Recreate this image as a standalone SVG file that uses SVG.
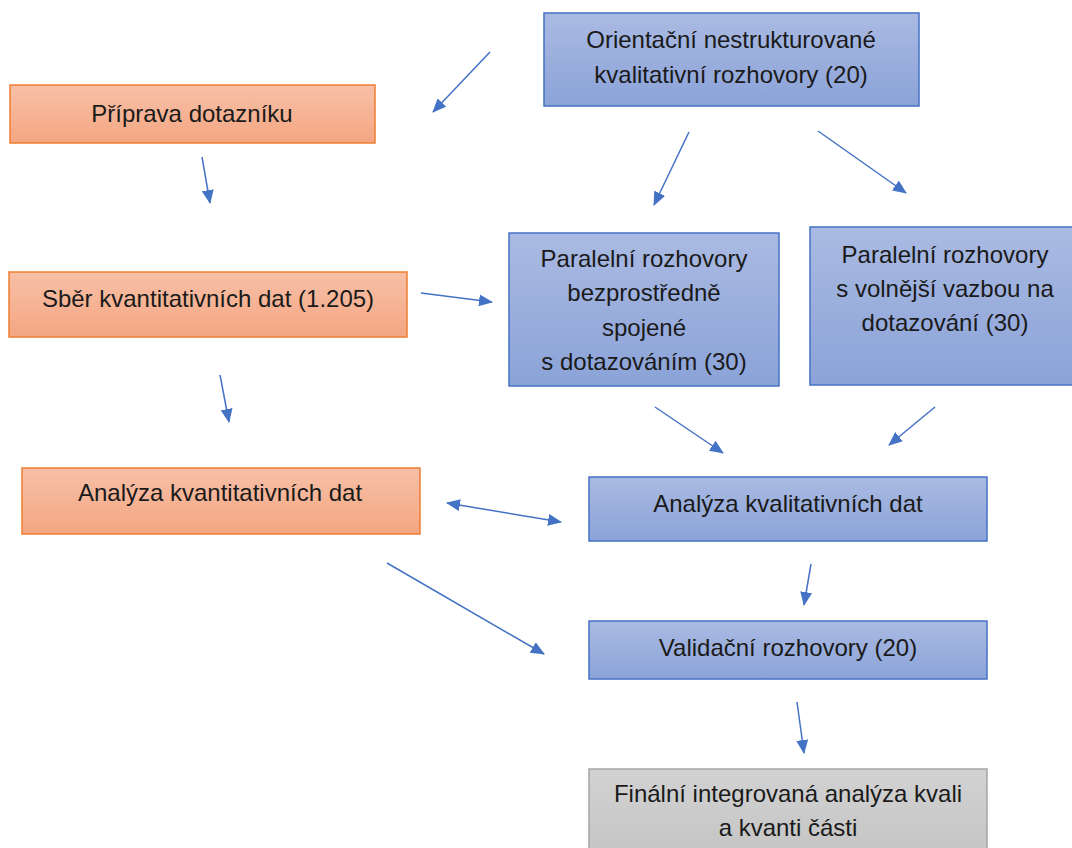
<svg xmlns="http://www.w3.org/2000/svg" width="1072" height="848" viewBox="0 0 1072 848">
<style>
text{font-family:"Liberation Sans",Arial,sans-serif;font-size:24px;fill:#1a1a1a;text-anchor:middle}
.o{fill:url(#gO);stroke:#ed7d31;stroke-width:1.5}
.b{fill:url(#gB);stroke:#4472c4;stroke-width:1.5}
.g{fill:url(#gG);stroke:#a5a5a5;stroke-width:1.5}
.c{stroke:#4472c4;stroke-width:1.5;fill:none;marker-end:url(#ah)}
</style>
<defs>
<linearGradient id="gO" x1="0" y1="0" x2="0" y2="1"><stop offset="0" stop-color="#f7c0a7"/><stop offset="1" stop-color="#f4a682"/></linearGradient>
<linearGradient id="gB" x1="0" y1="0" x2="0" y2="1"><stop offset="0" stop-color="#aabae2"/><stop offset="1" stop-color="#8ba3d8"/></linearGradient>
<linearGradient id="gG" x1="0" y1="0" x2="0" y2="1"><stop offset="0" stop-color="#d2d2d2"/><stop offset="1" stop-color="#c4c4c4"/></linearGradient>
<marker id="ah" viewBox="0 0 14 12" refX="13" refY="6" markerWidth="14" markerHeight="12" markerUnits="userSpaceOnUse" orient="auto-start-reverse"><path d="M0,0 L14,6 L0,12 z" fill="#4472c4"/></marker>
</defs>
<rect width="1072" height="848" fill="#fff"/>
<g id="n-priprava"><rect class="o" x="10" y="85" width="365" height="58"/><text x="192" y="122">Příprava dotazníku</text></g>
<g id="n-orientacni"><rect class="b" x="544" y="13" width="375" height="93"/><text x="731" y="48">Orientační nestrukturované</text><text x="731" y="83">kvalitativní rozhovory (20)</text></g>
<g id="n-sber"><rect class="o" x="9" y="272" width="398" height="65"/><text x="208" y="307">Sběr kvantitativních dat (1.205)</text></g>
<g id="n-par1"><rect class="b" x="509" y="233" width="270" height="153"/><text x="644" y="267">Paralelní rozhovory</text><text x="644" y="301">bezprostředně</text><text x="644" y="336">spojené</text><text x="644" y="370">s dotazováním (30)</text></g>
<g id="n-par2"><rect class="b" x="810" y="227" width="272" height="158"/><text x="945" y="263">Paralelní rozhovory</text><text x="945" y="297">s volnější vazbou na</text><text x="945" y="331">dotazování (30)</text></g>
<g id="n-anakvant"><rect class="o" x="22" y="468" width="398" height="66"/><text x="220" y="501">Analýza kvantitativních dat</text></g>
<g id="n-anakval"><rect class="b" x="589" y="477" width="398" height="64"/><text x="788" y="512">Analýza kvalitativních dat</text></g>
<g id="n-validacni"><rect class="b" x="589" y="621" width="398" height="58"/><text x="788" y="656">Validační rozhovory (20)</text></g>
<g id="n-finalni"><rect class="g" x="589" y="769" width="398" height="90"/><text x="788" y="802">Finální integrovaná analýza kvali</text><text x="788" y="836">a kvanti části</text></g>
<g id="connectors">
<line class="c" x1="490" y1="52" x2="433" y2="112"/>
<line class="c" x1="202" y1="157" x2="210" y2="203"/>
<line class="c" x1="689" y1="132" x2="654" y2="205"/>
<line class="c" x1="818" y1="131" x2="906" y2="193"/>
<line class="c" x1="421" y1="293" x2="492" y2="302"/>
<line class="c" x1="220" y1="375" x2="229" y2="422"/>
<line class="c" x1="447" y1="503" x2="561" y2="522" style="marker-start:url(#ah)"/>
<line class="c" x1="655" y1="407" x2="723" y2="453"/>
<line class="c" x1="935" y1="407" x2="889" y2="445"/>
<line class="c" x1="387" y1="563" x2="544" y2="654"/>
<line class="c" x1="811" y1="564" x2="804" y2="605"/>
<line class="c" x1="797" y1="702" x2="804" y2="753"/>
</g>
</svg>
